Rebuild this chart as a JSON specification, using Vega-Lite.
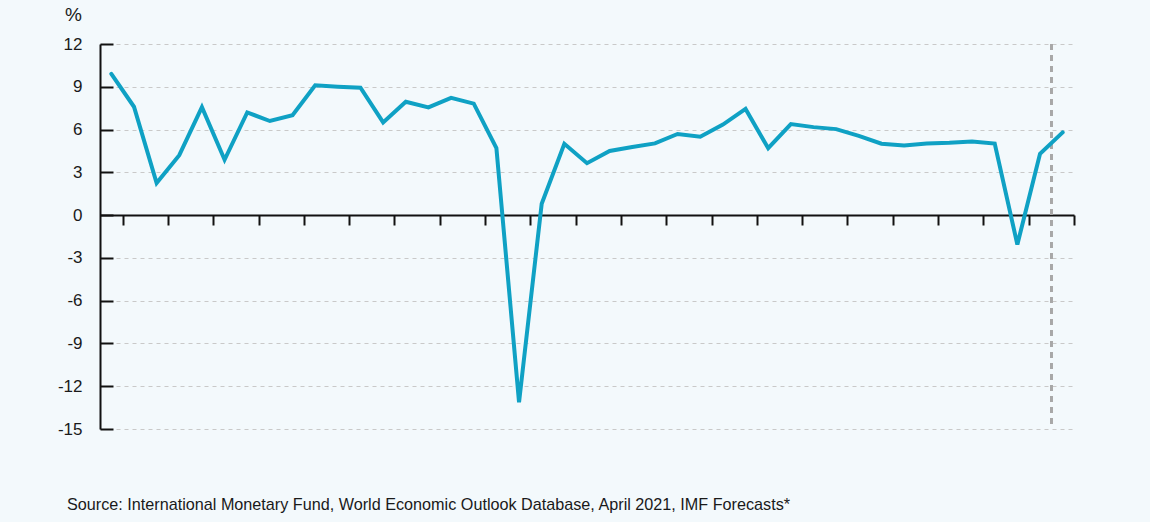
{
  "$schema": "https://vega.github.io/schema/vega-lite/v6.json",
  "width": 974,
  "height": 385,
  "autosize": "none",
  "padding": {"left": 100, "top": 44, "right": 76, "bottom": 93},
  "background": "#f3f9fc",
  "config": {
    "view": {"stroke": null},
    "font": "Liberation Sans"
  },
  "title": {
    "text": "Source: International Monetary Fund, World Economic Outlook Database, April 2021, IMF Forecasts*",
    "orient": "bottom",
    "anchor": "start",
    "frame": "group",
    "dx": -33,
    "offset": 60,
    "fontSize": 16.2,
    "fontWeight": "normal",
    "color": "#1a1a1a",
    "font": "Liberation Sans"
  },
  "data": {
    "values": [
      {"year": 1980, "growth": 9.9},
      {"year": 1981, "growth": 7.6},
      {"year": 1982, "growth": 2.25},
      {"year": 1983, "growth": 4.2},
      {"year": 1984, "growth": 7.57},
      {"year": 1985, "growth": 3.88},
      {"year": 1986, "growth": 7.2},
      {"year": 1987, "growth": 6.6},
      {"year": 1988, "growth": 7.0},
      {"year": 1989, "growth": 9.1},
      {"year": 1990, "growth": 9.0},
      {"year": 1991, "growth": 8.93},
      {"year": 1992, "growth": 6.5},
      {"year": 1993, "growth": 7.95},
      {"year": 1994, "growth": 7.55},
      {"year": 1995, "growth": 8.22},
      {"year": 1996, "growth": 7.82},
      {"year": 1997, "growth": 4.7},
      {"year": 1998, "growth": -13.13},
      {"year": 1999, "growth": 0.8},
      {"year": 2000, "growth": 5.0},
      {"year": 2001, "growth": 3.64},
      {"year": 2002, "growth": 4.5},
      {"year": 2003, "growth": 4.78},
      {"year": 2004, "growth": 5.03},
      {"year": 2005, "growth": 5.69},
      {"year": 2006, "growth": 5.5},
      {"year": 2007, "growth": 6.35},
      {"year": 2008, "growth": 7.45},
      {"year": 2009, "growth": 4.69},
      {"year": 2010, "growth": 6.38},
      {"year": 2011, "growth": 6.17},
      {"year": 2012, "growth": 6.03},
      {"year": 2013, "growth": 5.56},
      {"year": 2014, "growth": 5.01},
      {"year": 2015, "growth": 4.88},
      {"year": 2016, "growth": 5.03},
      {"year": 2017, "growth": 5.07},
      {"year": 2018, "growth": 5.17},
      {"year": 2019, "growth": 5.02},
      {"year": 2020, "growth": -2.07},
      {"year": 2021, "growth": 4.3},
      {"year": 2022, "growth": 5.8}
    ]
  },
  "layer": [
    {
      "mark": {"type": "rule", "color": "#a8a8a8", "strokeWidth": 2, "strokeDash": [6, 5]},
      "encoding": {
        "x": {"datum": 2021.5, "type": "quantitative"}
      }
    },
    {
      "mark": {"type": "line", "color": "#0fa1c4", "strokeWidth": 4, "strokeJoin": "miter", "strokeCap": "round"},
      "encoding": {
        "x": {
          "field": "year",
          "type": "quantitative",
          "scale": {"domain": [1979.5, 2022.5], "nice": false, "zero": false},
          "axis": {
            "title": null,
            "orient": "bottom",
            "offset": -214,
            "values": [1980.5, 1981.5, 1982.5, 1983.5, 1984.5, 1985.5, 1986.5, 1987.5, 1988.5, 1989.5, 1990.5, 1991.5, 1992.5, 1993.5, 1994.5, 1995.5, 1996.5, 1997.5, 1998.5, 1999.5, 2000.5, 2001.5, 2002.5, 2003.5, 2004.5, 2005.5, 2006.5, 2007.5, 2008.5, 2009.5, 2010.5, 2011.5, 2012.5, 2013.5, 2014.5, 2015.5, 2016.5, 2017.5, 2018.5, 2019.5, 2020.5, 2021.5, 2022.5],
            "labels": false,
            "grid": false,
            "domainColor": "#111111",
            "domainWidth": 2,
            "tickColor": "#111111",
            "tickWidth": 2,
            "tickSize": 10
          }
        },
        "y": {
          "field": "growth",
          "type": "quantitative",
          "scale": {"domain": [-15, 12], "nice": false, "zero": false},
          "axis": {
            "title": "%",
            "titleAngle": 0,
            "titleX": -27,
            "titleY": -30,
            "titleAlign": "center",
            "titleBaseline": "middle",
            "titleFontSize": 19,
            "titleFontWeight": "normal",
            "titleColor": "#1a1a1a",
            "values": [-15, -12, -9, -6, -3, 0, 3, 6, 9, 12],
            "labelExpr": "'' + datum.value",
            "labelFontSize": 17,
            "labelColor": "#1a1a1a",
            "labelPadding": 31,
            "domainColor": "#111111",
            "domainWidth": 2,
            "tickColor": "#111111",
            "tickWidth": 2,
            "tickSize": -13,
            "grid": true,
            "gridColor": "#c9c9c9",
            "gridDash": [4, 4],
            "gridWidth": 1
          }
        }
      }
    }
  ]
}
